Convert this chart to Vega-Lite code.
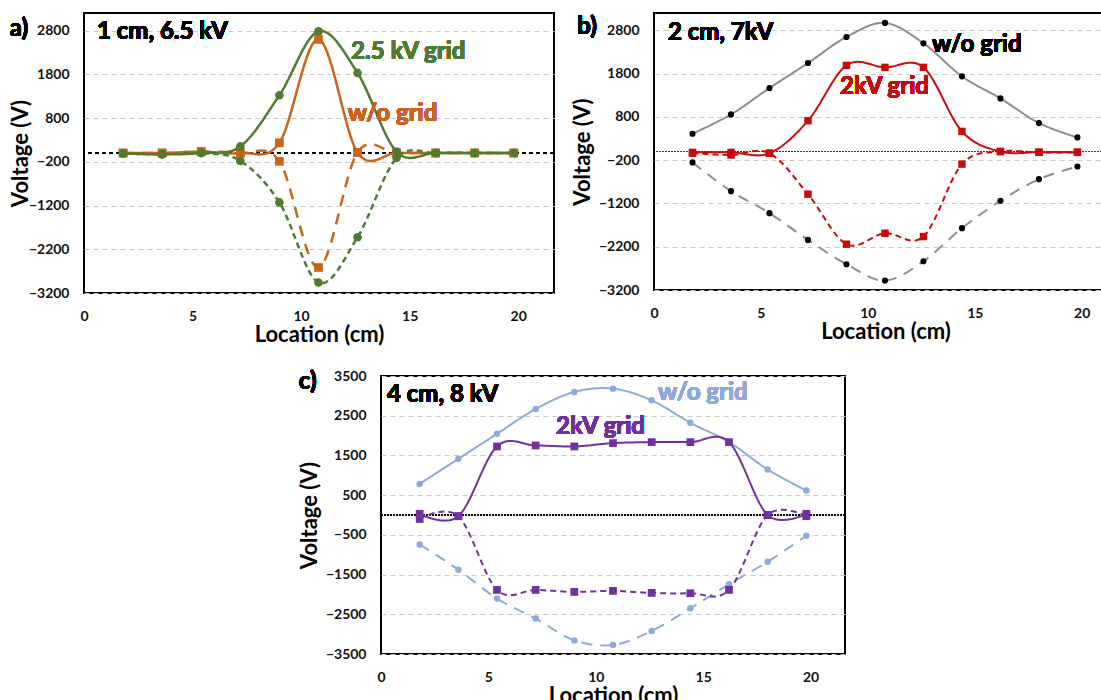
{
  "$schema": "https://vega.github.io/schema/vega-lite/v6.json",
  "background": "white",
  "padding": {"left": 8, "top": 12, "right": 0, "bottom": 0},
  "config": {
    "font": "Lato",
    "view": {"stroke": "black", "strokeWidth": 2, "fill": "white"},
    "axis": {
      "labelFont": "Lato", "labelFontWeight": "bold", "labelFontSize": 14, "labelColor": "#111111",
      "titleFont": "Lato", "titleFontWeight": "bold", "titleFontSize": 22, "titleColor": "#000000",
      "domain": false, "ticks": false, "format": "d"
    },
    "axisX": {"grid": false, "labelPadding": 16, "titlePadding": 1, "labelFlush": false},
    "axisY": {"grid": true, "gridDash": [5, 4], "gridColor": "#c8c8c8", "gridWidth": 1, "labelPadding": 15, "titlePadding": 4}
  },
  "datasets": {
    "a": [
      {"loc": 1.8, "volts": -10, "setup": "grid", "trace": "grid pos"},
      {"loc": 3.6, "volts": -30, "setup": "grid", "trace": "grid pos"},
      {"loc": 5.4, "volts": 0, "setup": "grid", "trace": "grid pos"},
      {"loc": 7.2, "volts": 150, "setup": "grid", "trace": "grid pos"},
      {"loc": 9.0, "volts": 1320, "setup": "grid", "trace": "grid pos"},
      {"loc": 10.8, "volts": 2780, "setup": "grid", "trace": "grid pos"},
      {"loc": 12.6, "volts": 1830, "setup": "grid", "trace": "grid pos"},
      {"loc": 14.4, "volts": 30, "setup": "grid", "trace": "grid pos"},
      {"loc": 16.2, "volts": 0, "setup": "grid", "trace": "grid pos"},
      {"loc": 18.0, "volts": 0, "setup": "grid", "trace": "grid pos"},
      {"loc": 19.8, "volts": 0, "setup": "grid", "trace": "grid pos"},
      {"loc": 1.8, "volts": -10, "setup": "grid", "trace": "grid neg"},
      {"loc": 3.6, "volts": -30, "setup": "grid", "trace": "grid neg"},
      {"loc": 5.4, "volts": 0, "setup": "grid", "trace": "grid neg"},
      {"loc": 7.2, "volts": -180, "setup": "grid", "trace": "grid neg"},
      {"loc": 9.0, "volts": -1130, "setup": "grid", "trace": "grid neg"},
      {"loc": 10.8, "volts": -2960, "setup": "grid", "trace": "grid neg"},
      {"loc": 12.6, "volts": -1925, "setup": "grid", "trace": "grid neg"},
      {"loc": 14.4, "volts": -110, "setup": "grid", "trace": "grid neg"},
      {"loc": 16.2, "volts": 0, "setup": "grid", "trace": "grid neg"},
      {"loc": 18.0, "volts": 0, "setup": "grid", "trace": "grid neg"},
      {"loc": 19.8, "volts": 0, "setup": "grid", "trace": "grid neg"},
      {"loc": 1.8, "volts": 0, "setup": "open", "trace": "open pos"},
      {"loc": 3.6, "volts": 0, "setup": "open", "trace": "open pos"},
      {"loc": 5.4, "volts": 30, "setup": "open", "trace": "open pos"},
      {"loc": 7.2, "volts": 0, "setup": "open", "trace": "open pos"},
      {"loc": 9.0, "volts": 234, "setup": "open", "trace": "open pos"},
      {"loc": 10.8, "volts": 2596, "setup": "open", "trace": "open pos"},
      {"loc": 12.6, "volts": 13, "setup": "open", "trace": "open pos"},
      {"loc": 14.4, "volts": 0, "setup": "open", "trace": "open pos"},
      {"loc": 16.2, "volts": 0, "setup": "open", "trace": "open pos"},
      {"loc": 18.0, "volts": 0, "setup": "open", "trace": "open pos"},
      {"loc": 19.8, "volts": 0, "setup": "open", "trace": "open pos"},
      {"loc": 1.8, "volts": 0, "setup": "open", "trace": "open neg"},
      {"loc": 3.6, "volts": 0, "setup": "open", "trace": "open neg"},
      {"loc": 5.4, "volts": 30, "setup": "open", "trace": "open neg"},
      {"loc": 7.2, "volts": 0, "setup": "open", "trace": "open neg"},
      {"loc": 9.0, "volts": -190, "setup": "open", "trace": "open neg"},
      {"loc": 10.8, "volts": -2617, "setup": "open", "trace": "open neg"},
      {"loc": 12.6, "volts": 13, "setup": "open", "trace": "open neg"},
      {"loc": 14.4, "volts": 0, "setup": "open", "trace": "open neg"},
      {"loc": 16.2, "volts": 0, "setup": "open", "trace": "open neg"},
      {"loc": 18.0, "volts": 0, "setup": "open", "trace": "open neg"},
      {"loc": 19.8, "volts": 0, "setup": "open", "trace": "open neg"}
    ],
    "b": [
      {"loc": 1.8, "volts": 410, "setup": "open", "trace": "open pos"},
      {"loc": 3.6, "volts": 857, "setup": "open", "trace": "open pos"},
      {"loc": 5.4, "volts": 1466, "setup": "open", "trace": "open pos"},
      {"loc": 7.2, "volts": 2044, "setup": "open", "trace": "open pos"},
      {"loc": 9.0, "volts": 2646, "setup": "open", "trace": "open pos"},
      {"loc": 10.8, "volts": 2970, "setup": "open", "trace": "open pos"},
      {"loc": 12.6, "volts": 2500, "setup": "open", "trace": "open pos"},
      {"loc": 14.4, "volts": 1736, "setup": "open", "trace": "open pos"},
      {"loc": 16.2, "volts": 1227, "setup": "open", "trace": "open pos"},
      {"loc": 18.0, "volts": 657, "setup": "open", "trace": "open pos"},
      {"loc": 19.8, "volts": 325, "setup": "open", "trace": "open pos"},
      {"loc": 1.8, "volts": -253, "setup": "open", "trace": "open neg"},
      {"loc": 3.6, "volts": -916, "setup": "open", "trace": "open neg"},
      {"loc": 5.4, "volts": -1425, "setup": "open", "trace": "open neg"},
      {"loc": 7.2, "volts": -2042, "setup": "open", "trace": "open neg"},
      {"loc": 9.0, "volts": -2605, "setup": "open", "trace": "open neg"},
      {"loc": 10.8, "volts": -2983, "setup": "open", "trace": "open neg"},
      {"loc": 12.6, "volts": -2535, "setup": "open", "trace": "open neg"},
      {"loc": 14.4, "volts": -1772, "setup": "open", "trace": "open neg"},
      {"loc": 16.2, "volts": -1140, "setup": "open", "trace": "open neg"},
      {"loc": 18.0, "volts": -639, "setup": "open", "trace": "open neg"},
      {"loc": 19.8, "volts": -346, "setup": "open", "trace": "open neg"},
      {"loc": 1.8, "volts": -20, "setup": "grid", "trace": "grid pos"},
      {"loc": 3.6, "volts": -20, "setup": "grid", "trace": "grid pos"},
      {"loc": 5.4, "volts": -40, "setup": "grid", "trace": "grid pos"},
      {"loc": 7.2, "volts": 711, "setup": "grid", "trace": "grid pos"},
      {"loc": 9.0, "volts": 1990, "setup": "grid", "trace": "grid pos"},
      {"loc": 10.8, "volts": 1944, "setup": "grid", "trace": "grid pos"},
      {"loc": 12.6, "volts": 1944, "setup": "grid", "trace": "grid pos"},
      {"loc": 14.4, "volts": 464, "setup": "grid", "trace": "grid pos"},
      {"loc": 16.2, "volts": 0, "setup": "grid", "trace": "grid pos"},
      {"loc": 18.0, "volts": -15, "setup": "grid", "trace": "grid pos"},
      {"loc": 19.8, "volts": -15, "setup": "grid", "trace": "grid pos"},
      {"loc": 1.8, "volts": -40, "setup": "grid", "trace": "grid neg"},
      {"loc": 3.6, "volts": -80, "setup": "grid", "trace": "grid neg"},
      {"loc": 5.4, "volts": -40, "setup": "grid", "trace": "grid neg"},
      {"loc": 7.2, "volts": -986, "setup": "grid", "trace": "grid neg"},
      {"loc": 9.0, "volts": -2142, "setup": "grid", "trace": "grid neg"},
      {"loc": 10.8, "volts": -1888, "setup": "grid", "trace": "grid neg"},
      {"loc": 12.6, "volts": -1965, "setup": "grid", "trace": "grid neg"},
      {"loc": 14.4, "volts": -292, "setup": "grid", "trace": "grid neg"},
      {"loc": 16.2, "volts": 0, "setup": "grid", "trace": "grid neg"},
      {"loc": 18.0, "volts": -20, "setup": "grid", "trace": "grid neg"},
      {"loc": 19.8, "volts": -20, "setup": "grid", "trace": "grid neg"}
    ],
    "c": [
      {"loc": 1.8, "volts": 783, "setup": "open", "trace": "open pos"},
      {"loc": 3.6, "volts": 1414, "setup": "open", "trace": "open pos"},
      {"loc": 5.4, "volts": 2045, "setup": "open", "trace": "open pos"},
      {"loc": 7.2, "volts": 2668, "setup": "open", "trace": "open pos"},
      {"loc": 9.0, "volts": 3098, "setup": "open", "trace": "open pos"},
      {"loc": 10.8, "volts": 3182, "setup": "open", "trace": "open pos"},
      {"loc": 12.6, "volts": 2887, "setup": "open", "trace": "open pos"},
      {"loc": 14.4, "volts": 2323, "setup": "open", "trace": "open pos"},
      {"loc": 16.2, "volts": 1835, "setup": "open", "trace": "open pos"},
      {"loc": 18.0, "volts": 1146, "setup": "open", "trace": "open pos"},
      {"loc": 19.8, "volts": 616, "setup": "open", "trace": "open pos"},
      {"loc": 1.8, "volts": -741, "setup": "open", "trace": "open neg"},
      {"loc": 3.6, "volts": -1380, "setup": "open", "trace": "open neg"},
      {"loc": 5.4, "volts": -2104, "setup": "open", "trace": "open neg"},
      {"loc": 7.2, "volts": -2609, "setup": "open", "trace": "open neg"},
      {"loc": 9.0, "volts": -3157, "setup": "open", "trace": "open neg"},
      {"loc": 10.8, "volts": -3274, "setup": "open", "trace": "open neg"},
      {"loc": 12.6, "volts": -2921, "setup": "open", "trace": "open neg"},
      {"loc": 14.4, "volts": -2348, "setup": "open", "trace": "open neg"},
      {"loc": 16.2, "volts": -1742, "setup": "open", "trace": "open neg"},
      {"loc": 18.0, "volts": -1177, "setup": "open", "trace": "open neg"},
      {"loc": 19.8, "volts": -520, "setup": "open", "trace": "open neg"},
      {"loc": 1.8, "volts": 30, "setup": "grid", "trace": "grid pos"},
      {"loc": 3.6, "volts": -30, "setup": "grid", "trace": "grid pos"},
      {"loc": 5.4, "volts": 1726, "setup": "grid", "trace": "grid pos"},
      {"loc": 7.2, "volts": 1751, "setup": "grid", "trace": "grid pos"},
      {"loc": 9.0, "volts": 1726, "setup": "grid", "trace": "grid pos"},
      {"loc": 10.8, "volts": 1810, "setup": "grid", "trace": "grid pos"},
      {"loc": 12.6, "volts": 1835, "setup": "grid", "trace": "grid pos"},
      {"loc": 14.4, "volts": 1835, "setup": "grid", "trace": "grid pos"},
      {"loc": 16.2, "volts": 1835, "setup": "grid", "trace": "grid pos"},
      {"loc": 18.0, "volts": 0, "setup": "grid", "trace": "grid pos"},
      {"loc": 19.8, "volts": 30, "setup": "grid", "trace": "grid pos"},
      {"loc": 1.8, "volts": -100, "setup": "grid", "trace": "grid neg"},
      {"loc": 3.6, "volts": -30, "setup": "grid", "trace": "grid neg"},
      {"loc": 5.4, "volts": -1886, "setup": "grid", "trace": "grid neg"},
      {"loc": 7.2, "volts": -1886, "setup": "grid", "trace": "grid neg"},
      {"loc": 9.0, "volts": -1936, "setup": "grid", "trace": "grid neg"},
      {"loc": 10.8, "volts": -1911, "setup": "grid", "trace": "grid neg"},
      {"loc": 12.6, "volts": -1961, "setup": "grid", "trace": "grid neg"},
      {"loc": 14.4, "volts": -1970, "setup": "grid", "trace": "grid neg"},
      {"loc": 16.2, "volts": -1886, "setup": "grid", "trace": "grid neg"},
      {"loc": 18.0, "volts": 0, "setup": "grid", "trace": "grid neg"},
      {"loc": 19.8, "volts": -30, "setup": "grid", "trace": "grid neg"}
    ]
  },
  "vconcat": [
    {
      "hconcat": [
        {
          "width": 470, "height": 280,
          "data": {"name": "a"},
          "layer": [
            {
              "mark": {"type": "rule", "color": "#000000", "strokeWidth": 1, "strokeDash": [4, 3]},
              "encoding": {"y": {"datum": 0, "type": "quantitative"}}
            },
            {
              "transform": [{"filter": "datum.setup == 'open'"}],
              "mark": {"type": "line", "interpolate": "cardinal", "tension": 0, "strokeWidth": 2.5, "color": "#CB6318"},
              "encoding": {
                "x": {"field": "loc", "type": "quantitative", "scale": {"domain": [0, 21.65], "nice": false, "zero": false}, "axis": {"values": [0, 5, 10, 15, 20], "tickCount": 12, "title": "Location (cm)", "labelOverlap": false}},
                "y": {"field": "volts", "type": "quantitative", "scale": {"domain": [-3200, 3200], "nice": false}, "axis": {"values": [-3200, -2200, -1200, -200, 800, 1800, 2800], "tickCount": 12, "title": "Voltage (V)", "titlePadding": -4, "labelOverlap": false}},
                "strokeDash": {"field": "trace", "type": "nominal", "scale": {"domain": ["grid pos", "grid neg", "open pos", "open neg"], "range": [[1, 0], [6, 4], [1, 0], [11, 8]]}, "legend": null}
              }
            },
            {
              "transform": [{"filter": "datum.setup == 'open'"}],
              "mark": {"type": "point", "filled": true, "opacity": 1, "shape": "square", "size": 75, "color": "#CB6318"},
              "encoding": {
                "x": {"field": "loc", "type": "quantitative"},
                "y": {"field": "volts", "type": "quantitative"}
              }
            },
            {
              "transform": [{"filter": "datum.setup == 'grid'"}],
              "mark": {"type": "line", "interpolate": "cardinal", "tension": 0, "strokeWidth": 2.5, "color": "#4F7B2F"},
              "encoding": {
                "x": {"field": "loc", "type": "quantitative"},
                "y": {"field": "volts", "type": "quantitative"},
                "strokeDash": {"field": "trace", "type": "nominal", "legend": null}
              }
            },
            {
              "transform": [{"filter": "datum.setup == 'grid'"}],
              "mark": {"type": "point", "filled": true, "opacity": 1, "shape": "circle", "size": 75, "color": "#4F7B2F"},
              "encoding": {
                "x": {"field": "loc", "type": "quantitative"},
                "y": {"field": "volts", "type": "quantitative"}
              }
            },
            {
              "mark": {"type": "text", "text": "1 cm, 6.5 kV", "align": "left", "baseline": "middle", "fontSize": 24, "fontWeight": "bold", "color": "#000000"},
              "encoding": {"x": {"datum": 0.6, "type": "quantitative"}, "y": {"datum": 2770, "type": "quantitative"}}
            },
            {
              "mark": {"type": "text", "text": "2.5 kV grid", "align": "left", "baseline": "middle", "fontSize": 24, "fontWeight": "bold", "color": "#4F7B2F"},
              "encoding": {"x": {"datum": 12.3, "type": "quantitative"}, "y": {"datum": 2300, "type": "quantitative"}}
            },
            {
              "mark": {"type": "text", "text": "w/o grid", "align": "left", "baseline": "middle", "fontSize": 24, "fontWeight": "bold", "color": "#CB6318"},
              "encoding": {"x": {"datum": 12.15, "type": "quantitative"}, "y": {"datum": 900, "type": "quantitative"}}
            },
            {
              "mark": {"type": "text", "text": "a)", "align": "center", "baseline": "middle", "fontSize": 24, "fontWeight": "bold", "color": "#000000"},
              "encoding": {"x": {"datum": -3.0, "type": "quantitative"}, "y": {"datum": 2840, "type": "quantitative"}}
            }
          ]
        },
        {
          "width": 463, "height": 277,
          "data": {"name": "b"},
          "layer": [
            {
              "mark": {"type": "rule", "color": "#333333", "strokeWidth": 1, "strokeDash": [2, 1]},
              "encoding": {"y": {"datum": 0, "type": "quantitative"}}
            },
            {
              "transform": [{"filter": "datum.setup == 'open'"}],
              "mark": {"type": "line", "interpolate": "cardinal", "tension": 0, "strokeWidth": 2, "color": "#8C8C8C"},
              "encoding": {
                "x": {"field": "loc", "type": "quantitative", "scale": {"domain": [0, 21.65], "nice": false, "zero": false}, "axis": {"values": [0, 5, 10, 15, 20], "tickCount": 12, "title": "Location (cm)", "labelOverlap": false}},
                "y": {"field": "volts", "type": "quantitative", "scale": {"domain": [-3200, 3200], "nice": false}, "axis": {"values": [-3200, -2200, -1200, -200, 800, 1800, 2800], "tickCount": 12, "title": "Voltage (V)", "labelOverlap": false}},
                "strokeDash": {"field": "trace", "type": "nominal", "scale": {"domain": ["grid pos", "grid neg", "open pos", "open neg"], "range": [[1, 0], [5, 3], [1, 0], [6, 4]]}, "legend": null}
              }
            },
            {
              "transform": [{"filter": "datum.setup == 'open'"}],
              "mark": {"type": "point", "filled": true, "opacity": 1, "shape": "circle", "size": 38, "color": "#000000"},
              "encoding": {
                "x": {"field": "loc", "type": "quantitative"},
                "y": {"field": "volts", "type": "quantitative"}
              }
            },
            {
              "transform": [{"filter": "datum.setup == 'grid'"}],
              "mark": {"type": "line", "interpolate": "cardinal", "tension": 0, "strokeWidth": 2, "color": "#C80A0A"},
              "encoding": {
                "x": {"field": "loc", "type": "quantitative"},
                "y": {"field": "volts", "type": "quantitative"},
                "strokeDash": {"field": "trace", "type": "nominal", "legend": null}
              }
            },
            {
              "transform": [{"filter": "datum.setup == 'grid'"}],
              "mark": {"type": "point", "filled": true, "opacity": 1, "shape": "square", "size": 55, "color": "#C80A0A"},
              "encoding": {
                "x": {"field": "loc", "type": "quantitative"},
                "y": {"field": "volts", "type": "quantitative"}
              }
            },
            {
              "mark": {"type": "text", "text": "2 cm, 7kV", "align": "left", "baseline": "middle", "fontSize": 24, "fontWeight": "bold", "color": "#000000"},
              "encoding": {"x": {"datum": 0.65, "type": "quantitative"}, "y": {"datum": 2745, "type": "quantitative"}}
            },
            {
              "mark": {"type": "text", "text": "w/o grid", "align": "left", "baseline": "middle", "fontSize": 24, "fontWeight": "bold", "color": "#000000"},
              "encoding": {"x": {"datum": 13.0, "type": "quantitative"}, "y": {"datum": 2470, "type": "quantitative"}}
            },
            {
              "mark": {"type": "text", "text": "2kV grid", "align": "left", "baseline": "middle", "fontSize": 24, "fontWeight": "bold", "color": "#C80A0A"},
              "encoding": {"x": {"datum": 8.7, "type": "quantitative"}, "y": {"datum": 1495, "type": "quantitative"}}
            },
            {
              "mark": {"type": "text", "text": "b)", "align": "center", "baseline": "middle", "fontSize": 24, "fontWeight": "bold", "color": "#000000"},
              "encoding": {"x": {"datum": -3.13, "type": "quantitative"}, "y": {"datum": 2870, "type": "quantitative"}}
            }
          ]
        }
      ],
      "spacing": 14
    },
    {
      "hconcat": [
        {
          "width": 213, "height": 10,
          "data": {"values": []},
          "mark": "point",
          "encoding": {},
          "view": {"stroke": null, "fill": null}
        },
        {
          "width": 464, "height": 278,
          "data": {"name": "c"},
          "layer": [
            {
              "mark": {"type": "rule", "color": "#000000", "strokeWidth": 1, "strokeDash": [2, 1]},
              "encoding": {"y": {"datum": 0, "type": "quantitative"}}
            },
            {
              "transform": [{"filter": "datum.setup == 'open'"}],
              "mark": {"type": "line", "interpolate": "cardinal", "tension": 0, "strokeWidth": 2, "color": "#8EA9DB"},
              "encoding": {
                "x": {"field": "loc", "type": "quantitative", "scale": {"domain": [0, 21.6], "nice": false, "zero": false}, "axis": {"values": [0, 5, 10, 15, 20], "tickCount": 12, "title": "Location (cm)", "labelOverlap": false}},
                "y": {"field": "volts", "type": "quantitative", "scale": {"domain": [-3500, 3500], "nice": false}, "axis": {"values": [-3500, -2500, -1500, -500, 500, 1500, 2500, 3500], "tickCount": 12, "title": "Voltage (V)", "labelOverlap": false}},
                "strokeDash": {"field": "trace", "type": "nominal", "scale": {"domain": ["grid pos", "grid neg", "open pos", "open neg"], "range": [[1, 0], [6, 3], [1, 0], [7, 4]]}, "legend": null}
              }
            },
            {
              "transform": [{"filter": "datum.setup == 'open'"}],
              "mark": {"type": "point", "filled": true, "opacity": 1, "shape": "circle", "size": 42, "color": "#8EA9DB"},
              "encoding": {
                "x": {"field": "loc", "type": "quantitative"},
                "y": {"field": "volts", "type": "quantitative"}
              }
            },
            {
              "transform": [{"filter": "datum.setup == 'grid'"}],
              "mark": {"type": "line", "interpolate": "cardinal", "tension": 0, "strokeWidth": 2, "color": "#7030A0"},
              "encoding": {
                "x": {"field": "loc", "type": "quantitative"},
                "y": {"field": "volts", "type": "quantitative"},
                "strokeDash": {"field": "trace", "type": "nominal", "legend": null}
              }
            },
            {
              "transform": [{"filter": "datum.setup == 'grid'"}],
              "mark": {"type": "point", "filled": true, "opacity": 1, "shape": "square", "size": 60, "color": "#7030A0"},
              "encoding": {
                "x": {"field": "loc", "type": "quantitative"},
                "y": {"field": "volts", "type": "quantitative"}
              }
            },
            {
              "mark": {"type": "text", "text": "4 cm, 8 kV", "align": "left", "baseline": "middle", "fontSize": 24, "fontWeight": "bold", "color": "#000000"},
              "encoding": {"x": {"datum": 0.28, "type": "quantitative"}, "y": {"datum": 3010, "type": "quantitative"}}
            },
            {
              "mark": {"type": "text", "text": "w/o grid", "align": "left", "baseline": "middle", "fontSize": 24, "fontWeight": "bold", "color": "#8EA9DB"},
              "encoding": {"x": {"datum": 12.9, "type": "quantitative"}, "y": {"datum": 3070, "type": "quantitative"}}
            },
            {
              "mark": {"type": "text", "text": "2kV grid", "align": "left", "baseline": "middle", "fontSize": 24, "fontWeight": "bold", "color": "#7030A0"},
              "encoding": {"x": {"datum": 8.15, "type": "quantitative"}, "y": {"datum": 2215, "type": "quantitative"}}
            },
            {
              "mark": {"type": "text", "text": "c)", "align": "center", "baseline": "middle", "fontSize": 24, "fontWeight": "bold", "color": "#000000"},
              "encoding": {"x": {"datum": -3.41, "type": "quantitative"}, "y": {"datum": 3350, "type": "quantitative"}}
            }
          ]
        }
      ],
      "spacing": 0
    }
  ],
  "spacing": 22
}
